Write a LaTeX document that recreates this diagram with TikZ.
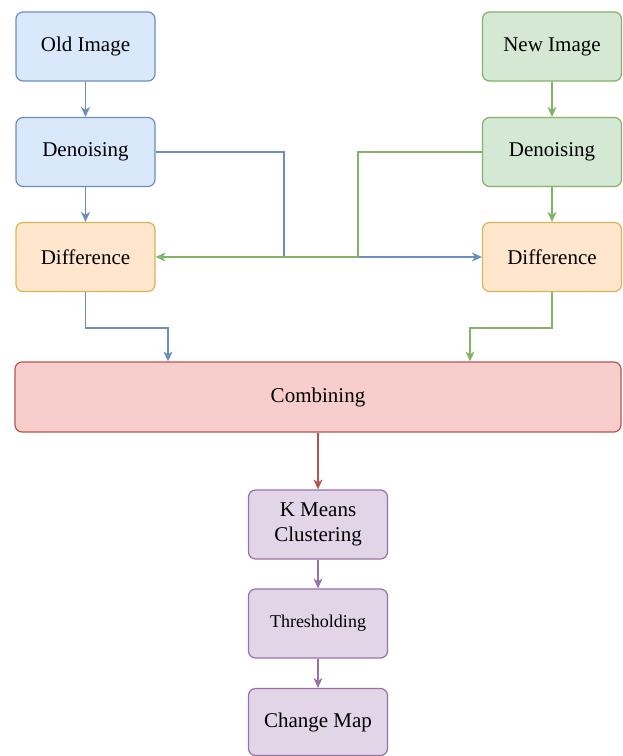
\documentclass[tikz,border=0pt]{standalone}
\usepackage{fontspec}
\setmainfont{Liberation Serif}
\usetikzlibrary{arrows.meta}
\definecolor{bfill}{HTML}{DAE8FC}\definecolor{bdraw}{HTML}{6C8EBF}
\definecolor{gfill}{HTML}{D5E8D4}\definecolor{gdraw}{HTML}{82B366}
\definecolor{ofill}{HTML}{FFE6CC}\definecolor{odraw}{HTML}{D6B656}
\definecolor{rfill}{HTML}{F8CECC}\definecolor{rdraw}{HTML}{B85450}
\definecolor{pfill}{HTML}{E1D5E7}\definecolor{pdraw}{HTML}{9673A6}
\tikzset{
  box/.style={draw, rounded corners=7pt, line width=1.2pt, minimum width=139pt, minimum height=69pt,
    inner sep=2pt, align=center, font=\fontsize{21}{25}\selectfont},
  bluebox/.style={box, fill=bfill, draw=bdraw},
  greenbox/.style={box, fill=gfill, draw=gdraw},
  orangebox/.style={box, fill=ofill, draw=odraw},
  redbox/.style={box, fill=rfill, draw=rdraw, minimum width=606pt, minimum height=70pt},
  purplebox/.style={box, fill=pfill, draw=pdraw, minimum width=139pt},
  conn/.style={line width=1.2pt, -{Stealth[length=10pt,width=9pt,inset=3pt]}},
  bconn/.style={conn, draw=bdraw},
  gconn/.style={conn, draw=gdraw},
  rconn/.style={conn, draw=rdraw},
  pconn/.style={conn, draw=pdraw},
}
\begin{document}
\begin{tikzpicture}[x=1pt,y=-1pt]
\useasboundingbox (0,0) rectangle (622,756);
\node[bluebox] (oldimg) at (85.5,46.5) {Old Image};
\node[bluebox] (denl) at (85.5,152) {Denoising};
\node[orangebox] (difl) at (85.5,257) {Difference};
\node[greenbox] (newimg) at (552,46.5) {New Image};
\node[greenbox] (denr) at (552,152) {Denoising};
\node[orangebox] (difr) at (552,257) {Difference};
\node[redbox] (comb) at (318,397) {Combining};
\node[purplebox] (kmeans) at (318,524.5) {K Means\\Clustering};
\node[purplebox, font=\fontsize{18}{22}\selectfont] (thresh) at (318,623.5) {Thresholding};
\node[purplebox, minimum height=67pt] (cmap) at (318,722) {Change Map};

\coordinate (jl) at (284,257);
\coordinate (jr) at (358,257);
\coordinate (cl) at (168,328);
\coordinate (cr) at (470,328);

\draw[bconn] (oldimg) -- (denl);
\draw[bconn] (denl) -- (difl);
\draw[gconn] (newimg) -- (denr);
\draw[gconn] (denr) -- (difr);
\draw[bconn] (denl.east) -| (jl) -- (difr.west);
\draw[gconn] (denr.west) -| (jr) -- (difl.east);
\draw[bconn] (difl.south) |- (cl) -- (comb.north -| cl);
\draw[gconn] (difr.south) |- (cr) -- (comb.north -| cr);
\draw[rconn] (comb.south -| kmeans) -- (kmeans.north);
\draw[pconn] (kmeans) -- (thresh);
\draw[pconn] (thresh) -- (cmap);
\end{tikzpicture}
\end{document}
